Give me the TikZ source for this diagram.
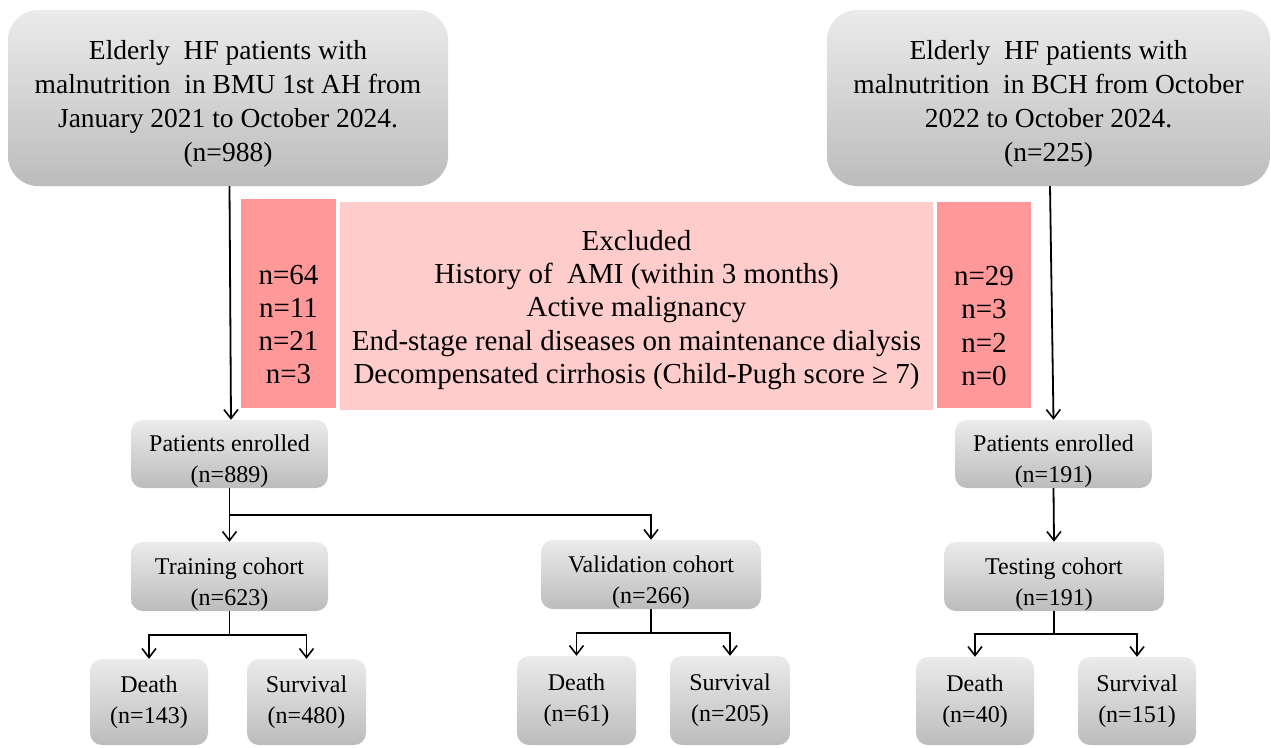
\documentclass[tikz,border=0pt]{standalone}
\usepackage{fontspec}
\setmainfont{Liberation Serif}
\usetikzlibrary{arrows.meta}
\definecolor{gtop}{HTML}{EBEBEB}
\definecolor{gbot}{HTML}{BCBCBC}
\definecolor{pinkdark}{HTML}{FF9999}
\definecolor{pinklight}{HTML}{FFCCCC}
\newcommand\topgap[1]{\rule{0pt}{#1}}
\tikzset{
  gbox/.style={shade, top color=gtop, bottom color=gbot, draw=none, align=center, inner sep=0pt},
  bigbox/.style={gbox, rounded corners=30pt, font=\fontsize{27.5}{34}\selectfont},
  smallbox/.style={gbox, rounded corners=12pt, font=\fontsize{24}{31}\selectfont},
  pinkbox/.style={draw=none, align=center, inner sep=0pt, font=\fontsize{29}{33.3}\selectfont},
  arr/.style={line width=1.8pt, -{Straight Barb[length=9pt,width=14pt,line width=1.6pt]}},
  ln/.style={line width=1.8pt}
}
\begin{document}
\begin{tikzpicture}[x=1pt,y=-1pt]
\useasboundingbox (0,0) rectangle (1271,747);
% top boxes
\node[bigbox, minimum width=440pt, minimum height=176pt] (topL) at (228,98)
  {\topgap{31pt}Elderly\ \ HF patients with\\malnutrition\ \ in BMU 1st AH from\\January 2021 to October 2024.\\(n=988)};
\node[bigbox, minimum width=443pt, minimum height=176pt] (topR) at (1048.5,98)
  {\topgap{31pt}Elderly\ \ HF patients with\\malnutrition\ \ in BCH from October\\2022 to October 2024.\\(n=225)};
% exclusion boxes
\node[pinkbox, fill=pinkdark, minimum width=95pt, minimum height=209pt] (exL) at (288.5,303.5)
  {\topgap{28pt}\\n=64\\n=11\\n=21\\n=3};
\node[pinkbox, fill=pinklight, minimum width=593pt, minimum height=208pt] (exM) at (636.5,306)
  {\topgap{28pt}Excluded\\History of\ \ AMI (within 3 months)\\Active malignancy\\End-stage renal diseases on maintenance dialysis\\Decompensated cirrhosis (Child-Pugh score ≥ 7)};
\node[pinkbox, fill=pinkdark, minimum width=94pt, minimum height=206pt] (exR) at (984,305)
  {\topgap{28pt}\\n=29\\n=3\\n=2\\n=0};
% enrolled
\node[smallbox, minimum width=197pt, minimum height=68pt] (peL) at (229.5,454) {\topgap{31pt}Patients enrolled\\(n=889)};
\node[smallbox, minimum width=197pt, minimum height=68pt] (peR) at (1053.5,454) {\topgap{31pt}Patients enrolled\\(n=191)};
% cohorts
\node[smallbox, minimum width=197pt, minimum height=67pt] (tr) at (229.5,576.5) {\topgap{33pt}Training cohort\\(n=623)};
\node[smallbox, minimum width=220pt, minimum height=67pt] (va) at (651,574.5) {\topgap{33pt}Validation cohort\\(n=266)};
\node[smallbox, minimum width=220pt, minimum height=67pt] (te) at (1054,576.5) {\topgap{33pt}Testing cohort\\(n=191)};
% outcomes
\node[smallbox, minimum width=118pt, minimum height=86pt] (d1) at (149,702) {Death\\(n=143)};
\node[smallbox, minimum width=119pt, minimum height=86pt] (s1) at (306.5,702) {Survival\\(n=480)};
\node[smallbox, minimum width=119pt, minimum height=89pt] (d2) at (576.5,700.5) {Death\\(n=61)};
\node[smallbox, minimum width=120pt, minimum height=89pt] (s2) at (730,700.5) {Survival\\(n=205)};
\node[smallbox, minimum width=118pt, minimum height=88pt] (d3) at (975,701) {Death\\(n=40)};
\node[smallbox, minimum width=118pt, minimum height=88pt] (s3) at (1137,701) {Survival\\(n=151)};
% connectors
\draw[arr] ([xshift=1.5pt]topL.south) -- ([xshift=1.5pt]peL.north);
\draw[arr] ([xshift=1.5pt]topR.south) -- (peR.north);
\draw[ln] (peL.south) -- ++(0,27) coordinate (b1);
\draw[arr] (b1) -- (tr.north);
\draw[arr] (b1) -| (va.north);
\draw[ln] (tr.south) -- ++(0,24) coordinate (b2);
\draw[arr] (b2) -| (d1.north);
\draw[arr] (b2) -| (s1.north);
\draw[ln] (va.south) -- ++(0,24) coordinate (b3);
\draw[arr] (b3) -| (d2.north);
\draw[arr] (b3) -| (s2.north);
\draw[arr] (peR.south) -- (te.north);
\draw[ln] (te.south) -- ++(0,23) coordinate (b4);
\draw[arr] (b4) -| (d3.north);
\draw[arr] (b4) -| (s3.north);
\end{tikzpicture}
\end{document}
